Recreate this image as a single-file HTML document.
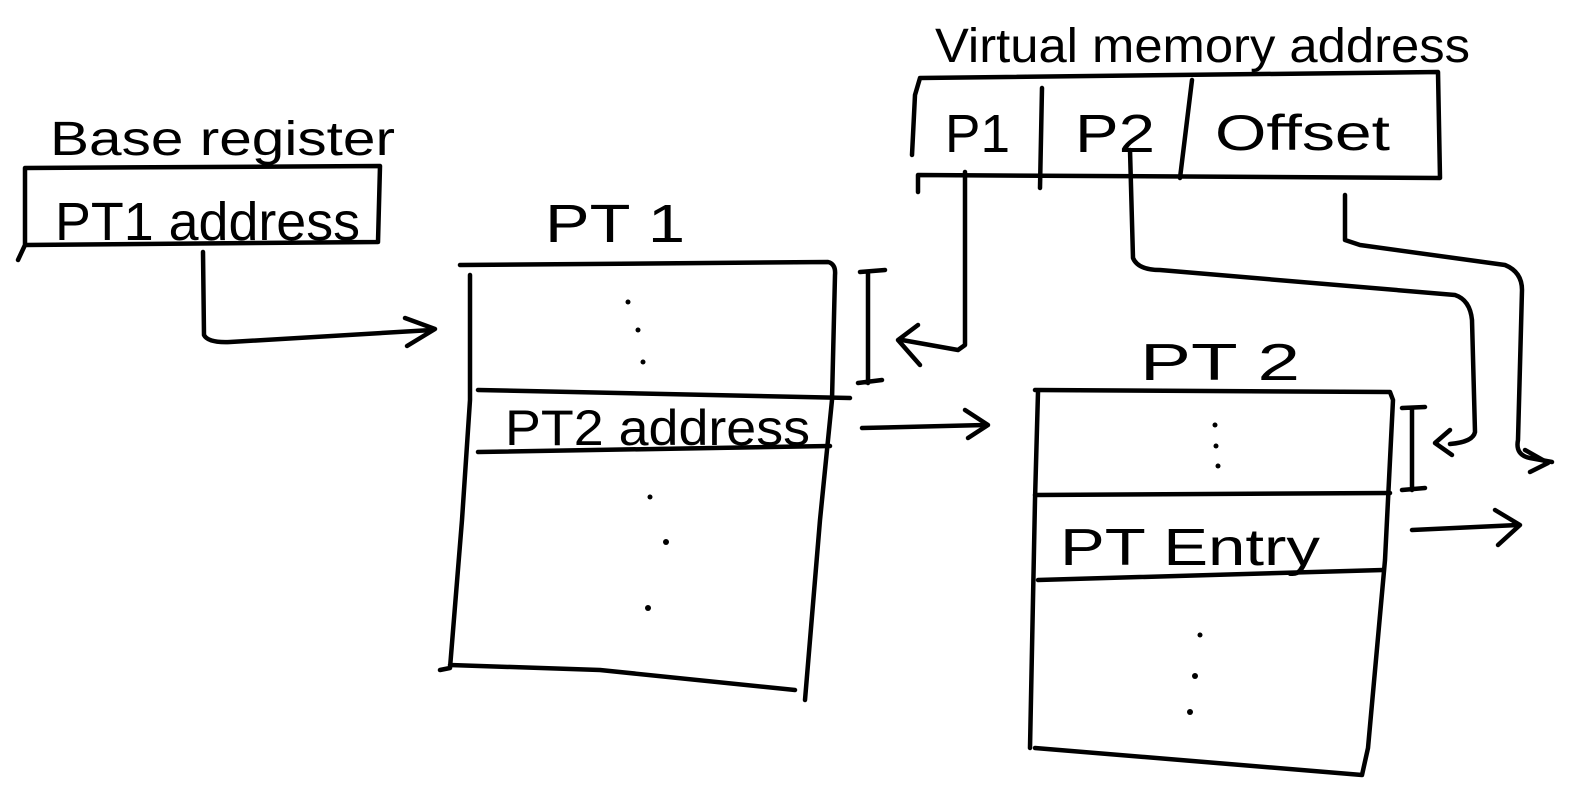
<!DOCTYPE html>
<html><head><meta charset="utf-8"><style>
html,body{margin:0;padding:0;background:#fff;}
svg{display:block}
text{font-family:"Liberation Sans",sans-serif;fill:#000;}
</style></head><body>
<svg width="1569" height="804" viewBox="0 0 1569 804" xmlns="http://www.w3.org/2000/svg">
<g fill="none" stroke="#000" stroke-width="4.5" stroke-linecap="round" stroke-linejoin="round">
<path d="M25 168 L380 166 L378 242 L25 245 L25 168 M25 245 L18 260"/>
<path d="M203 252 L204 335 Q208 343 230 342 L432 330"/>
<path d="M405 318 L435 329 L407 346"/>
<path d="M460 265 L828 262 Q836 264 835 275 L832 400 L820 520 L805 700"/>
<path d="M470 275 L470 400 L462 520 L450 668 L440 670 M450 665 L600 670 L795 690"/>
<path d="M478 390 L850 398"/>
<path d="M478 452 L830 446"/>
<path d="M868 272 L868 383 M860 272 L885 270 M858 383 L882 380"/>
<path d="M965 172 L965 345 L958 350 L902 340"/>
<path d="M918 325 L898 340 L920 365"/>
<path d="M862 428 L985 425"/>
<path d="M965 410 L988 425 L968 438"/>
<path d="M915 95 L920 78 L1438 72 L1440 178 L918 175 L918 192 M915 95 L912 155"/>
<path d="M1042 88 L1040 188 M1192 80 L1180 178"/>
<path d="M1130 150 L1133 258 Q1138 270 1160 270 L1455 295 Q1470 300 1472 320 L1475 432 Q1473 442 1450 444"/>
<path d="M1450 430 L1435 443 L1452 455"/>
<path d="M1345 195 L1345 240 L1360 245 L1505 265 Q1522 272 1522 290 L1518 440 Q1515 455 1530 458 L1552 462"/>
<path d="M1525 450 L1548 463 L1530 472"/>
<path d="M1035 390 L1390 392 L1393 400 L1385 560 L1368 748 L1362 775 L1035 748"/>
<path d="M1038 392 L1035 500 L1030 748"/>
<path d="M1035 495 L1390 493"/>
<path d="M1038 580 L1383 570"/>
<path d="M1412 408 L1412 490 M1402 408 L1425 407 M1402 490 L1425 488"/>
<path d="M1412 530 L1518 525"/>
<path d="M1495 510 L1520 525 L1498 545"/>
</g>
<g fill="#000">
<circle cx="628" cy="302" r="2.5"/><circle cx="638" cy="330" r="2.5"/><circle cx="643" cy="362" r="2.5"/>
<circle cx="650" cy="497" r="2.5"/><circle cx="666" cy="542" r="3"/><circle cx="648" cy="608" r="3"/>
<circle cx="1215" cy="425" r="2.5"/><circle cx="1216" cy="446" r="2.5"/><circle cx="1218" cy="466" r="2.5"/>
<circle cx="1200" cy="635" r="2.5"/><circle cx="1195" cy="676" r="3"/><circle cx="1190" cy="712" r="3"/>
</g>
<text x="50" y="155" font-size="48" textLength="345" lengthAdjust="spacingAndGlyphs">Base register</text>
<text x="55" y="240" font-size="54" textLength="305" lengthAdjust="spacingAndGlyphs">PT1 address</text>
<text x="545" y="242" font-size="54" textLength="140" lengthAdjust="spacingAndGlyphs">PT 1</text>
<text x="505" y="445" font-size="50" textLength="305" lengthAdjust="spacingAndGlyphs">PT2 address</text>
<text x="935" y="62" font-size="48" textLength="535" lengthAdjust="spacingAndGlyphs">Virtual memory address</text>
<text x="945" y="152" font-size="54" textLength="65" lengthAdjust="spacingAndGlyphs">P1</text>
<text x="1075" y="152" font-size="54" textLength="80" lengthAdjust="spacingAndGlyphs">P2</text>
<text x="1215" y="150" font-size="50" textLength="175" lengthAdjust="spacingAndGlyphs">Offset</text>
<text x="1140" y="380" font-size="52" textLength="160" lengthAdjust="spacingAndGlyphs">PT 2</text>
<text x="1060" y="565" font-size="52" textLength="260" lengthAdjust="spacingAndGlyphs">PT Entry</text>
</svg>
</body></html>
